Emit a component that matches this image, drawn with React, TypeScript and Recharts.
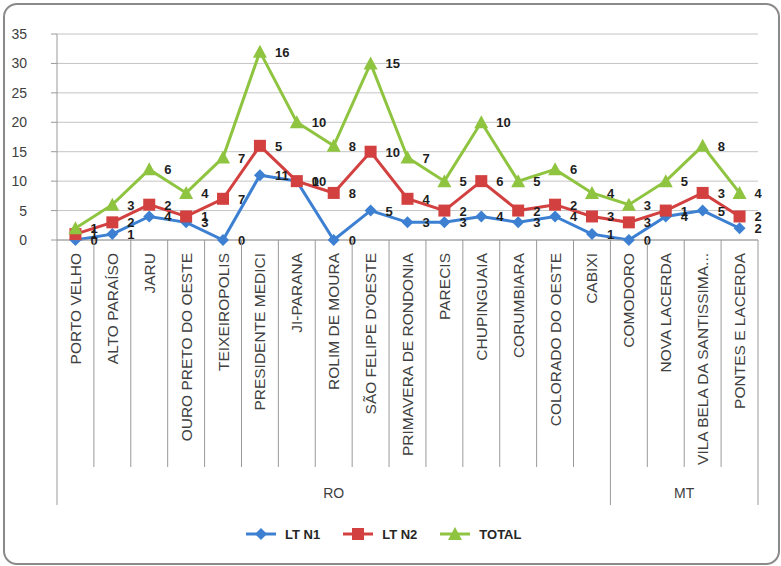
import { AreaChart, Area, XAxis, YAxis, CartesianGrid } from 'recharts'

// municipalities along the line, grouped by state
const CATEGORIES = [
  'PORTO VELHO',
  'ALTO PARAÍSO',
  'JARU',
  'OURO PRETO DO OESTE',
  'TEIXEIROPOLIS',
  'PRESIDENTE MEDICI',
  'JI-PARANA',
  'ROLIM DE MOURA',
  "SÃO FELIPE D'OESTE",
  'PRIMAVERA DE RONDONIA',
  'PARECIS',
  'CHUPINGUAIA',
  'CORUMBIARA',
  'COLORADO DO OESTE',
  'CABIXI',
  'COMODORO',
  'NOVA LACERDA',
  'VILA BELA DA SANTISSIMA...',
  'PONTES E LACERDA'
]
const GROUP_NAMES = ['RO', 'MT']
const GROUP_SIZES = [15, 4]

const LT_N1 = [0, 1, 4, 3, 0, 11, 10, 0, 5, 3, 3, 4, 3, 4, 1, 0, 4, 5, 2]
const LT_N2 = [1, 2, 2, 1, 7, 5, 0, 8, 10, 4, 2, 6, 2, 2, 3, 3, 1, 3, 2]
const TOTAL = [1, 3, 6, 4, 7, 16, 10, 8, 15, 7, 5, 10, 5, 6, 4, 3, 5, 8, 4]

const Y_TICKS = [0, 5, 10, 15, 20, 25, 30, 35]

const W = 781
const H = 566
const MARGIN = { top: 34, right: 23, bottom: 61, left: 0 }
const Y_AXIS_W = 57
const X_AXIS_H = 265
const HALF_BAND = (W - MARGIN.left - MARGIN.right - Y_AXIS_W) / CATEGORIES.length / 2

const FONT = '"Liberation Sans", Arial, sans-serif'
const BLUE = '#3d80d2'
const RED = '#d2403f'
const GREEN = '#8fc440'

document.body.style.margin = '0'

const data = CATEGORIES.map((name, i) => ({
  name,
  n1: LT_N1[i],
  n2: LT_N2[i],
  total: TOTAL[i]
}))

function marker(shape: string, color: string, cx: number, cy: number) {
  if (shape === 'diamond')
    return <path d={`M${cx},${cy - 6}L${cx + 6},${cy}L${cx},${cy + 6}L${cx - 6},${cy}Z`} fill={color} />
  if (shape === 'square') return <rect x={cx - 6} y={cy - 6} width={12} height={12} fill={color} />
  return <path d={`M${cx},${cy - 7}L${cx + 7},${cy + 6}L${cx - 7},${cy + 6}Z`} fill={color} />
}

// marker plus the raw (unstacked) value written to its right
const dotWithLabel = (shape: string, color: string, key: string) => (props: any) => {
  const { cx, cy, index, payload } = props
  if (cx == null || cy == null) return <g key={`d-${key}-${index}`} />
  return (
    <g key={`d-${key}-${index}`}>
      {marker(shape, color, cx, cy)}
      <text x={cx + 15} y={cy + 5} fontSize={13} fontWeight="bold" fill="#1e1e1e" fontFamily={FONT}>
        {payload[key]}
      </text>
    </g>
  )
}

const CategoryTick = (props: any) => {
  const { x, y, index, payload } = props
  const half = payload?.offset > 0 ? payload.offset : HALF_BAND
  const last = index === CATEGORIES.length - 1
  const groupStarts = GROUP_SIZES.map((_, g) => GROUP_SIZES.slice(0, g).reduce((a, b) => a + b, 0))
  const isGroupStart = groupStarts.includes(index)
  const labels: any[] = []
  GROUP_NAMES.forEach((g, gi) => {
    const c = groupStarts[gi] + (GROUP_SIZES[gi] - 1) / 2
    if (Math.floor(c) === index) {
      labels.push(
        <text key={g} x={x + (c - index) * 2 * half} y={y + 258} textAnchor="middle" fontSize={14} fill="#404040" fontFamily={FONT}>
          {g}
        </text>
      )
    }
  })
  return (
    <g>
      <line x1={x - half} x2={x - half} y1={y} y2={y + (isGroupStart ? 265 : 227)} stroke="#9a9a9a" />
      {last && <line x1={x + half} x2={x + half} y1={y} y2={y + 265} stroke="#9a9a9a" />}
      <text
        transform={`translate(${x},${y + 13}) rotate(-90)`}
        textAnchor="end"
        dominantBaseline="central"
        fontSize={15.5}
        fill="#404040"
        fontFamily={FONT}
      >
        {payload.value}
      </text>
      {labels}
    </g>
  )
}

const LEGEND = [
  { name: 'LT N1', color: BLUE, shape: 'diamond' },
  { name: 'LT N2', color: RED, shape: 'square' },
  { name: 'TOTAL', color: GREEN, shape: 'triangle' }
]

export default function App() {
  return (
    <div style={{ position: 'relative', width: W, height: H, background: '#fff', fontFamily: FONT }}>
      <AreaChart width={W} height={H} data={data} margin={MARGIN}>
        <CartesianGrid vertical={false} stroke="#c4c4c4" />
        <XAxis
          dataKey="name"
          scale="point"
          interval={0}
          padding={{ left: HALF_BAND, right: HALF_BAND }}
          height={X_AXIS_H}
          tickLine={false}
          tickSize={0}
          tickMargin={0}
          axisLine={{ stroke: '#9a9a9a' }}
          tick={<CategoryTick />}
        />
        <YAxis
          domain={[0, 35]}
          ticks={Y_TICKS}
          width={Y_AXIS_W}
          tickSize={6}
          tickMargin={24}
          axisLine={{ stroke: '#9a9a9a' }}
          tickLine={{ stroke: '#9a9a9a' }}
          tick={{ fontSize: 14, fill: '#404040', fontFamily: FONT }}
        />
        <Area
          dataKey="n1"
          stackId="s"
          type="linear"
          stroke={BLUE}
          strokeWidth={3}
          fill="none"
          dot={dotWithLabel('diamond', BLUE, 'n1')}
          activeDot={false}
          isAnimationActive={false}
        />
        <Area
          dataKey="n2"
          stackId="s"
          type="linear"
          stroke={RED}
          strokeWidth={3}
          fill="none"
          dot={dotWithLabel('square', RED, 'n2')}
          activeDot={false}
          isAnimationActive={false}
        />
        <Area
          dataKey="total"
          stackId="s"
          type="linear"
          stroke={GREEN}
          strokeWidth={3}
          fill="none"
          dot={dotWithLabel('triangle', GREEN, 'total')}
          activeDot={false}
          isAnimationActive={false}
        />
      </AreaChart>
      <div style={{ position: 'absolute', left: 245, top: 525, display: 'flex', alignItems: 'center', gap: 22 }}>
        {LEGEND.map((l) => (
          <div key={l.name} style={{ display: 'flex', alignItems: 'center', gap: 8 }}>
            <svg width={32} height={18}>
              <line x1={1} x2={31} y1={9} y2={9} stroke={l.color} strokeWidth={3} />
              {marker(l.shape, l.color, 16, 9)}
            </svg>
            <span style={{ fontSize: 13, fontWeight: 'bold', color: '#262626' }}>{l.name}</span>
          </div>
        ))}
      </div>
      <div
        style={{
          position: 'absolute',
          left: 3,
          top: 3,
          width: W - 8,
          height: H - 8,
          border: '2px solid #8a8a8a',
          borderRadius: 14,
          pointerEvents: 'none'
        }}
      />
    </div>
  )
}
